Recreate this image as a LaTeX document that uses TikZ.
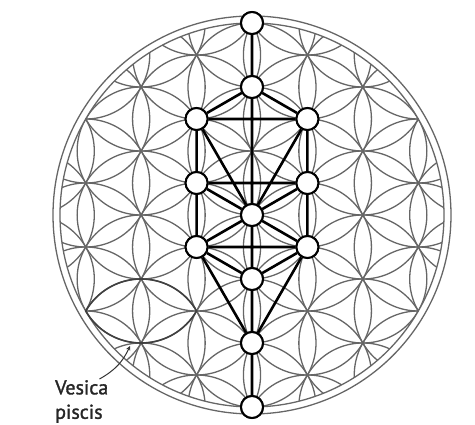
\documentclass[tikz,border=0pt]{standalone}
\usepackage{fontspec}
\usepackage{tikz}
\newfontfamily\labelfont[Scale=2.0,FakeBold=1.5]{PT Sans}
\usetikzlibrary{positioning, calc}

\begin{document}
\begin{tikzpicture}[
    x=1pt, y=1pt,
    >=stealth,
    petal/.style={draw=black!60, line width=1.3pt},
    ring/.style={draw=black!60, line width=1.3pt},
    lens/.style={draw=black!75, line width=1.6pt},
    branch/.style={draw=black, line width=2.6pt},
    sephira/.style={draw, circle, fill=white, line width=2pt, minimum size=22pt, inner sep=0pt},
    lab/.style={font=\labelfont, text=black!85, align=left, inner sep=0pt},
]
\def\rr{64}
\def\hx{55.4256}

\useasboundingbox (-252,-210) rectangle (223,215);

% -------------------------------------------------
% Flower of life (circle lattice, clipped)
% -------------------------------------------------
\begin{scope}
  \clip (0,0) circle (192);
  \foreach \i in {-4,...,4}
    \foreach \j in {-4,...,4} {
      \pgfmathsetmacro{\cx}{\i*0.8660254*\rr}
      \pgfmathsetmacro{\cy}{(\j+0.5*abs(mod(\i,2)))*\rr}
      \draw[petal] (\cx,\cy) circle (\rr);
    }
\end{scope}

\draw[ring] (0,0) circle (192);
\draw[ring] (0,0) circle (199);

% vesica piscis (two circles one radius apart)
\coordinate (lensA) at (-110.85,-64);
\coordinate (lensB) at (-110.85,-128);
\draw[lens] ($(lensA)+(210:\rr)$) arc (210:330:\rr) arc (30:150:\rr) -- cycle;

% -------------------------------------------------
% Tree of life
% -------------------------------------------------
\node[sephira] (sTop)    at (0,192)    {};
\node[sephira] (sUpper)  at (0,128)    {};
\node[sephira] (sL1)     at (-\hx,96)  {};
\node[sephira] (sR1)     at (\hx,96)   {};
\node[sephira] (sL2)     at (-\hx,32)  {};
\node[sephira] (sR2)     at (\hx,32)   {};
\node[sephira] (sMid)    at (0,0)      {};
\node[sephira] (sL3)     at (-\hx,-32) {};
\node[sephira] (sR3)     at (\hx,-32)  {};
\node[sephira] (sLow1)   at (0,-64)    {};
\node[sephira] (sLow2)   at (0,-128)   {};
\node[sephira] (sBottom) at (0,-192)   {};

\draw[branch]
  (sTop) -- (sUpper)
  (sUpper) -- (sMid)
  (sMid) -- (sLow1)
  (sLow1) -- (sLow2)
  (sLow2) -- (sBottom)
  (sUpper) -- (sL1)
  (sUpper) -- (sR1)
  (sL1) -- (sR1)
  (sL1) -- (sL2)
  (sR1) -- (sR2)
  (sL1) -- (sMid)
  (sR1) -- (sMid)
  (sL2) -- (sR2)
  (sL2) -- (sMid)
  (sR2) -- (sMid)
  (sL2) -- (sL3)
  (sR2) -- (sR3)
  (sL3) -- (sR3)
  (sL3) -- (sMid)
  (sR3) -- (sMid)
  (sL3) -- (sLow1)
  (sR3) -- (sLow1)
  (sL3) -- (sLow2)
  (sR3) -- (sLow2);

% redraw nodes on top of the lines
\foreach \s in {sTop,sUpper,sL1,sR1,sL2,sR2,sMid,sL3,sR3,sLow1,sLow2,sBottom}
  \node[sephira] at (\s) {};

% -------------------------------------------------
% Label
% -------------------------------------------------
\node[lab, anchor=north west] (vplab) at (-197,-165) {Vesica\\[9pt]piscis};
\coordinate (vpTip) at (-122,-131);
\draw[->, draw=black!80, line width=1pt] ([xshift=-9pt,yshift=1pt]vplab.north east) to[bend right=18] (vpTip);

\end{tikzpicture}
\end{document}
